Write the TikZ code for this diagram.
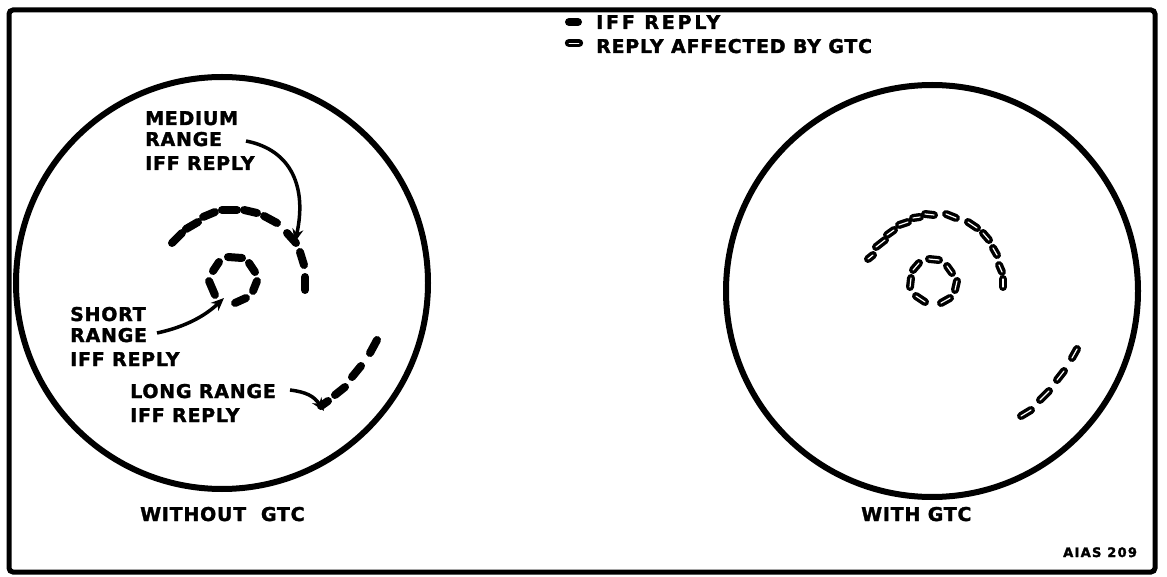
\documentclass[tikz,border=0pt]{standalone}
\usepackage{fontspec}
\newfontfamily\lf[LetterSpace=4,FakeBold=1.6]{DejaVu Sans Bold}
\newfontfamily\lfw[LetterSpace=15,FakeBold=1.6]{DejaVu Sans Bold}
\newfontfamily\lfs[LetterSpace=10,FakeBold=2.2]{DejaVu Sans Bold}
\usetikzlibrary{arrows.meta}
\begin{document}
\begin{tikzpicture}[x=1pt,y=-1pt,
  lbl/.style={anchor=base west, inner sep=0pt, font=\lf\fontsize{19}{22}\selectfont},
  frameline/.style={line width=5pt, rounded corners=4pt},
  scope circ/.style={line width=6pt},
  blip/.style={line width=8pt, line cap=round},
  gtcblip/.style={line width=3.4pt, line cap=round, double=white, double distance=1.2pt},
  pointer/.style={line width=3.5pt, -{Stealth[length=13pt,width=11pt]}}]
\useasboundingbox (0,0) rectangle (1167,577);
\draw[frameline] (9,10) rectangle (1155,572);

% scopes
\node[circle, draw, scope circ, minimum size=412pt, inner sep=0pt] (lscope) at (222,283) {};
\node[circle, draw, scope circ, minimum size=412pt, inner sep=0pt] (rscope) at (932,291) {};

% legend
\coordinate (lg1a) at (569,22); \coordinate (lg1b) at (578,22);
\draw[blip] (lg1a) -- (lg1b);
\coordinate (lg2a) at (569,43); \coordinate (lg2b) at (579,43);
\draw[line width=3.8pt, line cap=round, double=white, double distance=0.8pt] (lg2a) -- (lg2b);
\node[lbl, font=\lfw\fontsize{19}{22}\selectfont] (leg1) at (596,29) {IFF REPLY};
\node[lbl] (leg2) at (596,53) {REPLY AFFECTED BY GTC};

% left labels
\node[lbl] (med1) at (145,125) {MEDIUM};
\node[lbl] (med2) at (145,146) {RANGE};
\node[lbl] (med3) at (145,170) {IFF REPLY};
\node[lbl] (sh1) at (70,321) {SHORT};
\node[lbl] (sh2) at (70,342) {RANGE};
\node[lbl] (sh3) at (70,366) {IFF REPLY};
\node[lbl] (lo1) at (130,398) {LONG RANGE};
\node[lbl] (lo2) at (130,422) {IFF REPLY};
\node[lbl] (wo) at (140,521) {WITHOUT\ \ GTC};
\node[lbl] (wi) at (861,521) {WITH GTC};
\node[anchor=base west, inner sep=0pt, font=\lfs\fontsize{13}{15}\selectfont] (id) at (1063,557) {AIAS 209};

% left blips: medium arc
\foreach \a/\b in {{(172,243)/(182,233)},{(186,229)/(198,222)},{(203,217)/(215,212)},{(222,210)/(237,210)},{(244,210)/(257,213)},{(264,216)/(277,223)},{(287,233)/(296,243)},{(300,252)/(304,265)},{(305,277)/(305,290)}}
  \draw[blip] \a -- \b;
% left blips: short circle
\foreach \a/\b in {{(228,257)/(242,258)},{(249,263)/(255,272)},{(257,281)/(253,291)},{(246,298)/(235,303)},{(209,281)/(215,295)},{(213,271)/(219,262)}}
  \draw[blip] \a -- \b;
% left blips: long range
\foreach \a/\b in {{(370,353)/(377,340)},{(352,377)/(361,366)},{(335,395)/(345,387)},{(321,406)/(328,401)}}
  \draw[blip] \a -- \b;

% right blips: medium arc
\foreach \a/\b in {{(868,259)/(873,255)},{(876,247)/(885,240)},{(887,235)/(894,230)},{(899,225)/(908,222)},{(913,218)/(920,217)},{(925,214)/(934,215)},{(946,214)/(956,218)},{(968,222)/(977,228)},{(983,233)/(989,240)},{(993,248)/(997,255)},{(999,265)/(1002,272)},{(1003,279)/(1003,287)}}
  \draw[gtcblip] \a -- \b;
% right blips: short circle
\foreach \a/\b in {{(913,270)/(919,263)},{(929,259)/(939,260)},{(947,266)/(952,273)},{(957,281)/(955,290)},{(950,298)/(941,303)},{(925,302)/(916,296)},{(910,287)/(911,278)}}
  \draw[gtcblip] \a -- \b;
% right blips: long range
\foreach \a/\b in {{(1072,358)/(1077,349)},{(1057,380)/(1064,371)},{(1040,400)/(1049,391)},{(1021,416)/(1031,410)}}
  \draw[gtcblip] \a -- \b;

% pointers
\coordinate (mstart) at (246,141);
\coordinate (mtip) at (295,242);
\coordinate (sstart) at (157,333);
\coordinate (stip) at (224,298);
\coordinate (lstart) at (290,390);
\coordinate (ltip) at (324,411);
\draw[pointer] (mstart) .. controls (292,150) and (307,188) .. (mtip);
\draw[pointer] (sstart) .. controls (185,327) and (205,316) .. (stip);
\draw[pointer] (lstart) .. controls (306,392) and (314,396) .. (ltip);
\end{tikzpicture}
\end{document}
